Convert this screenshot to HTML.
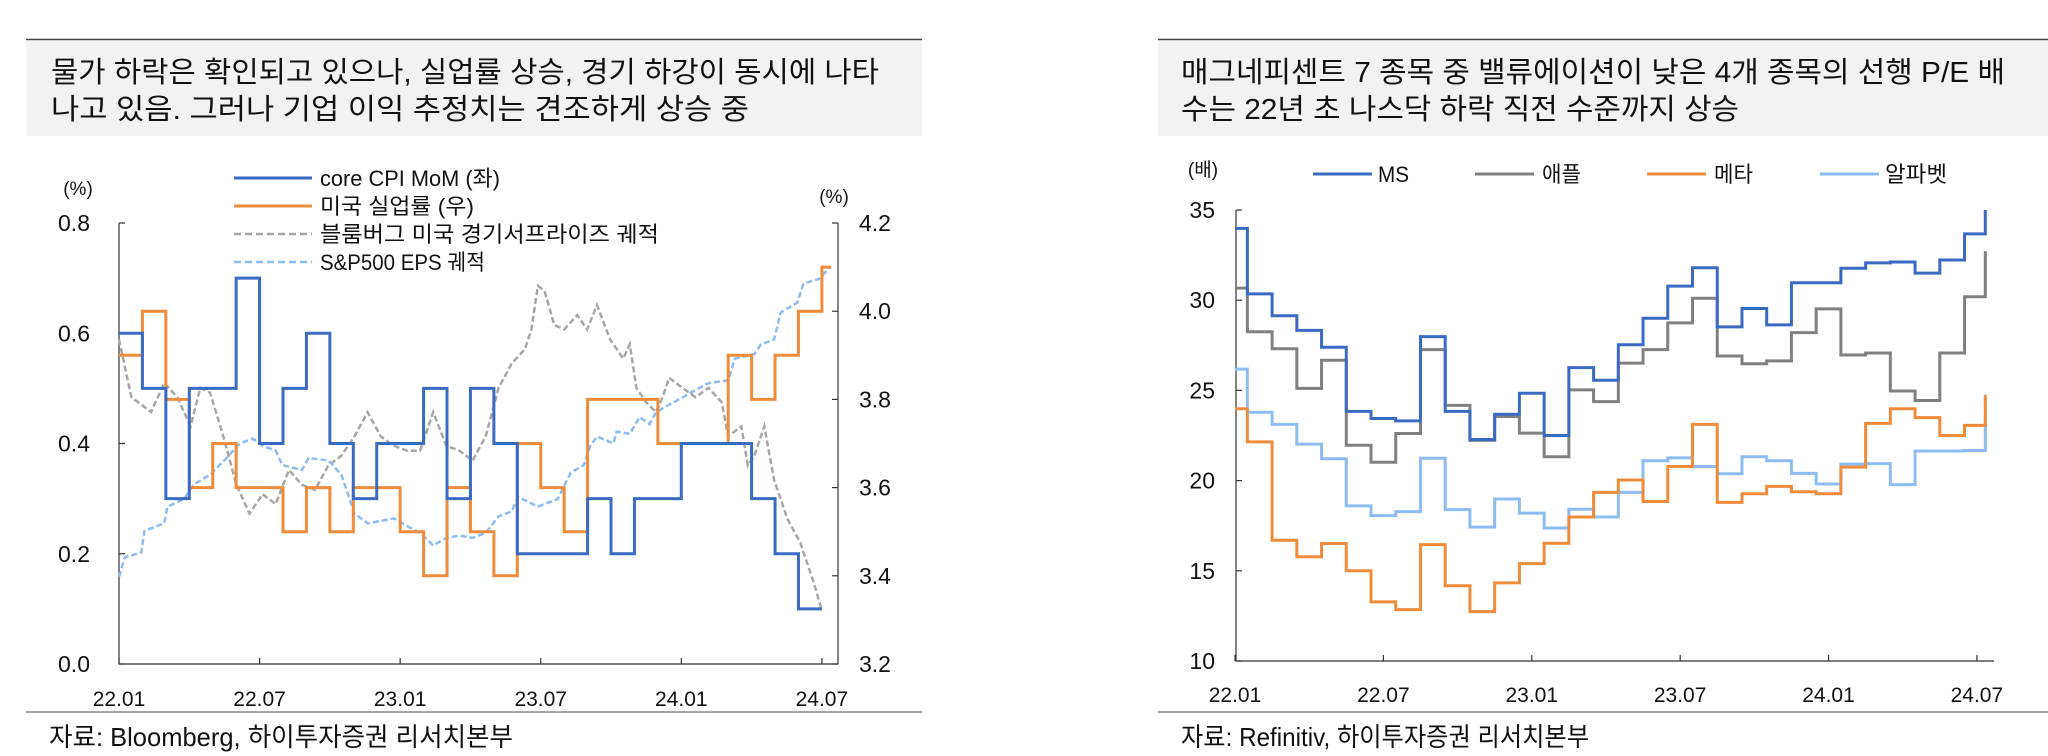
<!DOCTYPE html>
<html><head><meta charset="utf-8"><style>
html,body{margin:0;padding:0;background:#fff;}
svg{display:block;font-family:"Liberation Sans","Noto Sans CJK KR",sans-serif;}
</style></head><body>
<svg id="s" width="2048" height="756" viewBox="0 0 2048 756" xmlns="http://www.w3.org/2000/svg">
<g>
<line x1="26" y1="39.5" x2="922" y2="39.5" stroke="#444" stroke-width="1.5"/>
<rect x="26" y="41" width="896" height="95" fill="#f2f2f2"/>
<text x="51" y="82" font-size="29" fill="#111" textLength="828" lengthAdjust="spacingAndGlyphs">물가 하락은 확인되고 있으나, 실업률 상승, 경기 하강이 동시에 나타</text>
<text x="51" y="119" font-size="29" fill="#111" textLength="698" lengthAdjust="spacingAndGlyphs">나고 있음. 그러나 기업 이익 추정치는 견조하게 상승 중</text>
<line x1="26" y1="712" x2="922" y2="712" stroke="#888" stroke-width="1.5"/>
<text x="49" y="746" font-size="26" fill="#111" textLength="464" lengthAdjust="spacingAndGlyphs">자료: Bloomberg, 하이투자증권 리서치본부</text>
<text x="78" y="195" font-size="19" text-anchor="middle" fill="#111">(%)</text>
<text x="834" y="203" font-size="19" text-anchor="middle" fill="#111">(%)</text>
<g id="lAxes"></g>
<g id="lSeries"></g>
<g>
<line x1="234" y1="178" x2="312" y2="178" stroke="#3a6bc2" stroke-width="3"/>
<text x="320" y="186" font-size="22" textLength="180" lengthAdjust="spacingAndGlyphs" fill="#111">core CPI MoM (좌)</text>
<line x1="234" y1="206" x2="312" y2="206" stroke="#ee8c3c" stroke-width="3"/>
<text x="320" y="214" font-size="22" textLength="154" lengthAdjust="spacingAndGlyphs" fill="#111">미국 실업률 (우)</text>
<line x1="234" y1="234" x2="312" y2="234" stroke="#a6a6a6" stroke-width="2.5" stroke-dasharray="7,4"/>
<text x="320" y="242" font-size="22" textLength="339" lengthAdjust="spacingAndGlyphs" fill="#111">블룸버그 미국 경기서프라이즈 궤적</text>
<line x1="234" y1="262" x2="312" y2="262" stroke="#8dbcf2" stroke-width="2.5" stroke-dasharray="7,4"/>
<text x="320" y="270" font-size="22" textLength="165" lengthAdjust="spacingAndGlyphs" fill="#111">S&amp;P500 EPS 궤적</text>
</g>
</g>
<g>
<line x1="1158" y1="39.5" x2="2048" y2="39.5" stroke="#444" stroke-width="1.5"/>
<rect x="1158" y="41" width="890" height="95" fill="#f2f2f2"/>
<text x="1181" y="82" font-size="29" fill="#111" textLength="824" lengthAdjust="spacingAndGlyphs">매그네피센트 7 종목 중 밸류에이션이 낮은 4개 종목의 선행 P/E 배</text>
<text x="1181" y="119" font-size="29" fill="#111" textLength="558" lengthAdjust="spacingAndGlyphs">수는 22년 초 나스닥 하락 직전 수준까지 상승</text>
<line x1="1158" y1="712" x2="2048" y2="712" stroke="#888" stroke-width="1.5"/>
<text x="1181" y="746" font-size="26" fill="#111" textLength="408" lengthAdjust="spacingAndGlyphs">자료: Refinitiv, 하이투자증권 리서치본부</text>
<text x="1203" y="176" font-size="19" text-anchor="middle" fill="#111">(배)</text>
<g>
<line x1="1313" y1="174" x2="1372" y2="174" stroke="#3a6bc2" stroke-width="3"/>
<text x="1378" y="182" font-size="22" textLength="31" lengthAdjust="spacingAndGlyphs" fill="#111">MS</text>
<line x1="1475" y1="174" x2="1534" y2="174" stroke="#808080" stroke-width="3"/>
<text x="1542" y="182" font-size="22" textLength="39" lengthAdjust="spacingAndGlyphs" fill="#111">애플</text>
<line x1="1647" y1="174" x2="1706" y2="174" stroke="#ee8c3c" stroke-width="3"/>
<text x="1714" y="182" font-size="22" textLength="39" lengthAdjust="spacingAndGlyphs" fill="#111">메타</text>
<line x1="1820" y1="174" x2="1879" y2="174" stroke="#8dbcf2" stroke-width="3"/>
<text x="1885" y="182" font-size="22" textLength="62" lengthAdjust="spacingAndGlyphs" fill="#111">알파벳</text>
</g>
<g id="rAxes"></g>
<g id="rSeries"></g>
</g>
</svg>
<script>
// ---------- Left chart data ----------
const xTickLabels = ["22.01","22.07","23.01","23.07","24.01","24.07"];
const xTickMonths = [0,6,12,18,24,30];
const leftTicks = [0,0.2,0.4,0.6,0.8];
const leftTickLabels = ["0.0","0.2","0.4","0.6","0.8"];
const rightTicks = [3.2,3.4,3.6,3.8,4.0,4.2];
const rightTickLabels = ["3.2","3.4","3.6","3.8","4.0","4.2"];
const coreCpi = [0.6,0.5,0.3,0.5,0.5,0.7,0.4,0.5,0.6,0.4,0.3,0.4,0.4,0.5,0.3,0.5,0.4,0.2,0.2,0.2,0.3,0.2,0.3,0.3,0.4,0.4,0.4,0.3,0.2,0.1];
const unemployment = [3.9,4.0,3.8,3.6,3.7,3.6,3.6,3.5,3.6,3.5,3.6,3.6,3.5,3.4,3.6,3.5,3.4,3.7,3.6,3.5,3.8,3.8,3.8,3.7,3.7,3.7,3.9,3.8,3.9,4.0,4.1];
const surpriseMonths = [0,.53,1.37,1.93,2.49,3.05,3.47,3.89,4.45,5.01,5.57,6.13,6.69,7.25,7.81,8.37,8.93,9.49,10.05,10.61,11.17,11.73,12.29,12.85,13.41,13.97,14.53,15.09,15.65,16.2,16.76,17.32,17.6,17.88,18.16,18.58,19.0,19.56,19.98,20.4,20.96,21.52,21.8,22.08,22.5,22.92,23.2,23.48,24.04,24.6,25.16,25.72,26.0,26.56,26.84,27.12,27.54,27.96,28.52,29.08,29.64,30];
const surpriseValues = [.589,.484,.457,.51,.484,.431,.501,.492,.413,.325,.273,.308,.29,.352,.325,.316,.36,.378,.413,.457,.413,.396,.387,.387,.457,.396,.387,.369,.413,.501,.545,.571,.607,.686,.677,.615,.607,.633,.607,.651,.589,.554,.58,.501,.475,.457,.484,.519,.501,.484,.501,.475,.413,.431,.36,.378,.431,.334,.264,.22,.149,.097];
const epsMonths = [0,.25,.95,1.09,1.93,2.07,2.77,3.19,3.89,4.59,5.15,5.71,6.13,6.69,6.97,7.81,8.09,8.93,9.49,10.05,10.61,11.73,12.29,12.85,13.41,13.97,14.53,15.09,15.65,16.2,16.76,17.04,17.88,18.72,19.28,19.84,20.12,20.4,21.1,21.24,21.8,22.22,22.64,22.92,23.48,24.04,24.6,25.16,26.0,26.28,27.12,27.4,27.96,28.24,28.94,29.22,29.92,30.34];
const epsValues = [3.398,3.442,3.453,3.502,3.519,3.557,3.574,3.607,3.629,3.667,3.7,3.711,3.695,3.684,3.651,3.64,3.667,3.662,3.629,3.541,3.519,3.53,3.513,3.497,3.469,3.486,3.491,3.486,3.497,3.535,3.546,3.579,3.557,3.574,3.634,3.651,3.695,3.716,3.7,3.727,3.722,3.76,3.744,3.771,3.788,3.804,3.821,3.837,3.843,3.892,3.903,3.925,3.936,3.997,4.019,4.063,4.074,4.101];
// ---------- Right chart data ----------
const peTicks = [10,15,20,25,30,35];
const peTickLabels = ["10","15","20","25","30","35"];
const msPE = [33.98,30.35,29.14,28.33,27.39,23.84,23.44,23.31,27.98,23.84,22.28,23.68,24.84,22.5,26.26,25.56,27.53,29.0,30.78,31.8,28.52,29.54,28.63,30.97,30.97,31.77,32.07,32.12,31.5,32.23,33.68];
const msLatest = 35.0;
const applePE = [30.67,28.25,27.31,25.11,26.67,21.96,21.02,22.61,27.26,24.17,22.23,23.55,22.63,21.32,25.03,24.38,26.51,27.26,28.74,30.11,26.91,26.48,26.64,28.2,29.52,26.96,27.07,24.97,24.44,27.07,30.19];
const appleLatest = 32.72;
const metaPE = [23.98,22.15,16.69,15.78,16.51,15.0,13.28,12.85,16.45,14.17,12.74,14.33,15.4,16.53,17.98,19.35,20.03,18.84,20.78,23.12,18.79,19.27,19.68,19.38,19.27,20.75,23.17,23.98,23.49,22.5,23.06];
const metaLatest = 24.76;
const alphabetPE = [26.18,23.79,23.12,22.02,21.21,18.6,18.06,18.28,21.24,18.39,17.42,18.98,18.2,17.37,18.41,17.98,19.35,21.1,21.26,20.78,20.38,21.32,21.1,20.4,19.81,20.91,20.94,19.78,21.64,21.64,21.67];
const alphabetLatest = 23.68;

const NS = "http://www.w3.org/2000/svg";
function mk(parent, tag, attrs){const e=document.createElementNS(NS,tag);for(const k in attrs)e.setAttribute(k,attrs[k]);parent.appendChild(e);return e;}
// axis functions
const xL = m => 119 + m*23.43;
const yL = v => 664 - v/0.8*441;
const yR = v => 664 - (v-3.2)*441;
const xP = m => 1235 + m*24.73;
const yP = v => 661 - (v-10)*18.04;

const la = document.getElementById('lAxes');
let e;
e = mk(la,'path',{d:`M119 223 V664 H838 V223`,fill:'none',stroke:'#333','stroke-width':1.2});


leftTicks.forEach((t,i)=>{
  e = mk(la,'line',{x1:119,x2:125,y1:yL(t),y2:yL(t),stroke:'#333','stroke-width':1.2});
  
  
  e = mk(la,'text',{x:90,y:yL(t)+8,'font-size':23,'text-anchor':'end',fill:'#111'});
  e.textContent = leftTickLabels[i];
  
  
});
rightTicks.forEach((t,i)=>{
  e = mk(la,'line',{x1:832,x2:838,y1:yR(t),y2:yR(t),stroke:'#333','stroke-width':1.2});
  
  
  e = mk(la,'text',{x:859,y:yR(t)+8,'font-size':23,fill:'#111'});
  e.textContent = rightTickLabels[i];
  
  
});
xTickMonths.forEach((m,i)=>{
  e = mk(la,'line',{x1:xL(m),x2:xL(m),y1:658,y2:664,stroke:'#333','stroke-width':1.2});
  
  
  e = mk(la,'text',{x:xL(m),y:706,'font-size':21,'text-anchor':'middle',fill:'#111'});
  e.textContent = xTickLabels[i];
  
  
});

function stepPath(vals, xf, yf, lastEnd){
  let d = `M${xf(0)} ${yf(vals[0])}`;
  for(let i=0;i<vals.length;i++){
    const xe = (i===vals.length-1 && lastEnd!==undefined) ? xf(lastEnd) : xf(i+1);
    if(i>0) d += ` V${yf(vals[i])}`;
    d += ` H${xe}`;
  }
  return d;
}
function linePath(xs, vs, xf, yf){return xs.map((m,i)=>(i?'L':'M')+xf(m).toFixed(1)+' '+yf(vs[i]).toFixed(1)).join(' ');}

const ls = document.getElementById('lSeries');
e = mk(ls,'path',{d:linePath(surpriseMonths,surpriseValues,xL,yL),fill:'none',stroke:'#a6a6a6','stroke-width':2.5,'stroke-dasharray':'6,3'});


e = mk(ls,'path',{d:linePath(epsMonths,epsValues,xL,yR),fill:'none',stroke:'#8dbcf2','stroke-width':2.5,'stroke-dasharray':'6,3'});


e = mk(ls,'path',{d:stepPath(unemployment,xL,yR,30.4),fill:'none',stroke:'#ee8c3c','stroke-width':3});


e = mk(ls,'path',{d:stepPath(coreCpi,xL,yL),fill:'none',stroke:'#3a6bc2','stroke-width':3});



// right chart axes
const ra = document.getElementById('rAxes');
e = mk(ra,'path',{d:`M1236 210 V661 H1994`,fill:'none',stroke:'#333','stroke-width':1.2});


peTicks.forEach((t,i)=>{
  e = mk(ra,'line',{x1:1236,x2:1242,y1:yP(t),y2:yP(t),stroke:'#333','stroke-width':1.2});
  
  
  e = mk(ra,'text',{x:1215,y:yP(t)+8,'font-size':23,'text-anchor':'end',fill:'#111'});
  e.textContent = peTickLabels[i];
  
  
});
xTickMonths.forEach((m,i)=>{
  e = mk(ra,'line',{x1:xP(m),x2:xP(m),y1:655,y2:661,stroke:'#333','stroke-width':1.2});
  
  
  e = mk(ra,'text',{x:xP(m),y:702,'font-size':21,'text-anchor':'middle',fill:'#111'});
  e.textContent = xTickLabels[i];
  
  
});
function centeredStep(vals, latest){
  const n = vals.length;
  let d = `M${xP(0)} ${yP(vals[0])}`;
  for(let i=0;i<n;i++){
    if(i>0) d += ` V${yP(vals[i])}`;
    d += ` H${xP(Math.min(i+0.5, n-1+0.34))}`;
  }
  d += ` V${yP(latest)}`;
  return d;
}
const rs = document.getElementById('rSeries');
e = mk(rs,'path',{d:centeredStep(alphabetPE,alphabetLatest),fill:'none',stroke:'#8dbcf2','stroke-width':3});


e = mk(rs,'path',{d:centeredStep(metaPE,metaLatest),fill:'none',stroke:'#ee8c3c','stroke-width':3});


e = mk(rs,'path',{d:centeredStep(applePE,appleLatest),fill:'none',stroke:'#808080','stroke-width':3});


e = mk(rs,'path',{d:centeredStep(msPE,msLatest),fill:'none',stroke:'#3a6bc2','stroke-width':3});


</script>
</body></html>
